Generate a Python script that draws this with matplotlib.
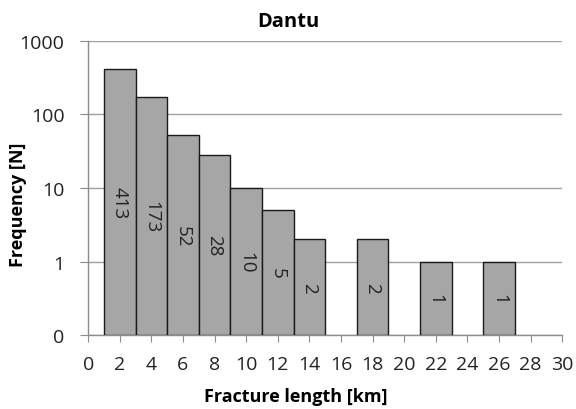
import numpy as np
import matplotlib
matplotlib.use("Agg")
import matplotlib.pyplot as plt

bin_left = [1, 3, 5, 7, 9, 11, 13, 17, 21, 25]
counts = [413, 173, 52, 28, 10, 5, 2, 2, 1, 1]
bin_width = 2
y_ticks = [0.1, 1, 10, 100, 1000]
y_tick_labels = ["0", "1", "10", "100", "1000"]
x_ticks = list(range(0, 31, 2))

plt.rcParams["font.family"] = ["Open Sans", "DejaVu Sans"]

fig = plt.figure(figsize=(5.76, 4.10), dpi=100)
ax = fig.add_axes([0.153, 0.180, 0.823, 0.718])

y_min = 0.1
heights = [c - y_min for c in counts]
ax.bar(bin_left, heights, width=bin_width, bottom=y_min, align="edge",
       color="#a6a6a6", edgecolor="#1a1a1a", linewidth=1.0, zorder=3)

for x, c in zip(bin_left, counts):
    # label sits halfway (in log space) between the axis floor and bar top
    y_mid = np.sqrt(c * y_min)
    ax.text(x + bin_width / 2, y_mid, str(c), rotation=-90,
            ha="center", va="center", fontsize=13.5, color="#222222",
            zorder=4)

ax.set_yscale("log")
ax.set_ylim(y_min, 1000)
ax.set_xlim(0, 30)
ax.set_yticks(y_ticks)
ax.set_yticklabels(y_tick_labels)
ax.yaxis.set_minor_locator(matplotlib.ticker.NullLocator())
ax.set_xticks(x_ticks)

ax.grid(axis="y", color="#a0a0a0", linewidth=1.0, zorder=0)
for side in ["top", "right"]:
    ax.spines[side].set_visible(False)
for side in ["left", "bottom"]:
    ax.spines[side].set_color("#8c8c8c")
    ax.spines[side].set_linewidth(1.0)

ax.tick_params(axis="y", direction="out", length=6, color="#8c8c8c",
               labelsize=14, pad=11, labelcolor="#222222")
ax.tick_params(axis="x", direction="out", length=5, color="#8c8c8c",
               labelsize=14, pad=9, labelcolor="#222222")

fig.text(0.514, 0.032, "Fracture length [km]", fontsize=13,
         fontweight="bold", ha="center", va="center")
fig.text(0.032, 0.50, "Frequency [N]", fontsize=13, fontweight="bold",
         ha="center", va="center", rotation=90)
fig.text(0.5, 0.947, "Dantu", fontsize=14.5, fontweight="bold",
         ha="center", va="center")

fig.savefig("out.png", dpi=100)
